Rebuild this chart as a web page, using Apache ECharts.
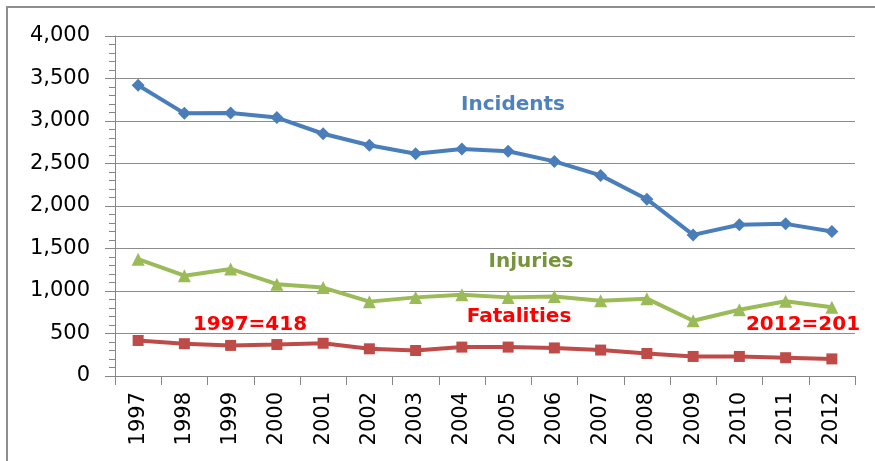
<!DOCTYPE html>
<html>
<head>
<meta charset="utf-8">
<script src="https://cdn.jsdelivr.net/npm/echarts@6/dist/echarts.min.js"></script>
<style>
html,body{margin:0;padding:0;background:#fff;}
#c{width:875px;height:461px;}
</style>
</head>
<body>
<div id="c"></div>
<script>
var years = ['1997','1998','1999','2000','2001','2002','2003','2004','2005','2006','2007','2008','2009','2010','2011','2012'];
var incidents = [3420,3090,3095,3040,2850,2715,2615,2670,2645,2525,2360,2080,1660,1780,1790,1700];
var injuries = [1375,1180,1260,1080,1040,875,925,955,925,935,885,910,650,780,880,810];
var fatalities = [418,380,360,370,385,320,300,340,340,330,305,265,230,230,215,201];
var yTicks = {min:0, max:4000, step:500};
var annotations = [
  {text:'Incidents', x:513, y:105, color:'#4F81BD'},
  {text:'Injuries', x:531, y:262, color:'#77933C'},
  {text:'Fatalities', x:519, y:317, color:'#FF0000'},
  {text:'1997=418', x:250, y:325, color:'#FF0000'},
  {text:'2012=201', x:803, y:325, color:'#FF0000'}
];

var font = 'DejaVu Sans';
var chart = echarts.init(document.getElementById('c'));
var graphics = [{
  type:'rect', shape:{x:7,y:7,width:900,height:500},
  style:{fill:'none', stroke:'#8f8f8f', lineWidth:2}, z:-1
}];
annotations.forEach(function(a){
  graphics.push({type:'text', x:a.x, y:a.y,
    style:{text:a.text, fill:a.color, font:'bold 20px "'+font+'"', textAlign:'center', textVerticalAlign:'middle'}});
});

function mkLine(name, data, color, symbol, size){
  return {name:name, type:'line', data:data, symbol:symbol, symbolSize:size,
    lineStyle:{color:color, width:4}, itemStyle:{color:color},
    showAllSymbol:true, animation:false};
}

chart.setOption({
  animation:false,
  grid:{left:115, right:20, top:36, bottom:85},
  xAxis:{type:'category', data:years, boundaryGap:true,
    axisLine:{lineStyle:{color:'#868686', width:1}},
    axisTick:{show:true, length:9, lineStyle:{color:'#868686'}},
    axisLabel:{rotate:90, margin:16, fontSize:21, fontFamily:font, color:'#000'}},
  yAxis:{type:'value', min:yTicks.min, max:yTicks.max, interval:yTicks.step,
    axisLine:{show:true, lineStyle:{color:'#868686'}},
    axisTick:{show:true, length:10, lineStyle:{color:'#868686'}},
    minorTick:{show:true, splitNumber:5, length:6, lineStyle:{color:'#868686'}},
    splitLine:{show:true, lineStyle:{color:'#8c8c8c', width:1}},
    axisLabel:{margin:25, fontSize:21, fontFamily:font, color:'#000',
      formatter:function(v){return v.toLocaleString('en-US');}}},
  series:[
    mkLine('Incidents', incidents, '#4A7EBB', 'diamond', 13),
    mkLine('Injuries', injuries, '#9BBB59', 'triangle', 13),
    mkLine('Fatalities', fatalities, '#BE4B48', 'rect', 11)
  ],
  graphic:graphics
});
</script>
</body>
</html>
